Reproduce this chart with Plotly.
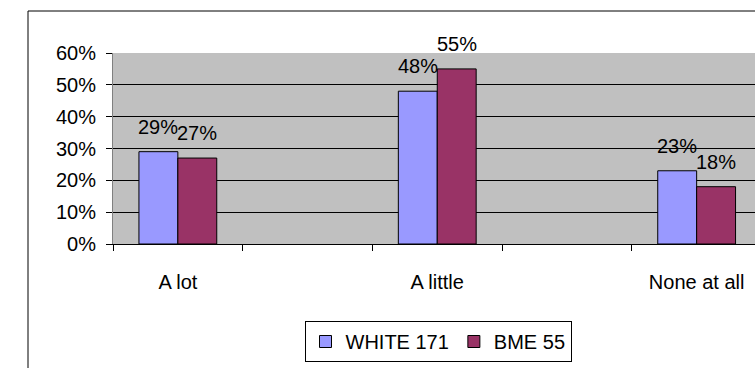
import plotly.graph_objects as go

categories = ["A lot", "A little", "None at all"]
white_171 = [0.29, 0.48, 0.23]
bme_55 = [0.27, 0.55, 0.18]
series_names = ["WHITE 171", "BME 55"]
y_ticks = [0, 0.1, 0.2, 0.3, 0.4, 0.5, 0.6]

FONT = "Liberation Sans, Arial, sans-serif"
STEP = 2  # each category is followed by an empty slot
BARGAP = 0.70
xpos = [STEP * i for i in range(len(categories))]
n_slots = STEP * len(categories)
boundaries = [i - 0.5 for i in range(n_slots + 1)]

fig = go.Figure()
fig.add_trace(go.Bar(x=xpos, y=white_171, name=series_names[0],
                     marker=dict(color="#9999FF", line=dict(color="#000000", width=1))))
fig.add_trace(go.Bar(x=xpos, y=bme_55, name=series_names[1],
                     marker=dict(color="#993366", line=dict(color="#000000", width=1))))
# invisible trace to carry the boundary tick axis
fig.add_trace(go.Scatter(x=[xpos[0]], y=[0], xaxis="x2", mode="markers",
                         marker=dict(opacity=0), showlegend=False, hoverinfo="skip"))

half = STEP * (1 - BARGAP) / 4
for vals, off in ((white_171, -half), (bme_55, half)):
    for xp, v in zip(xpos, vals):
        fig.add_annotation(x=xp + off, y=v, text=f"{round(v*100)}%", showarrow=False,
                           yshift=25, font=dict(size=20, color="black", family=FONT))

W, H = 755, 368
L, T, B = 113, 53, 124
pw = W - L
ph = H - T - B
slot = 129.7
xr = [-0.5, -0.5 + pw / slot]
fig.update_layout(
    width=W, height=H,
    margin=dict(l=L, r=0, t=T, b=B),
    paper_bgcolor="white", plot_bgcolor="#C0C0C0",
    barmode="group", bargap=BARGAP, bargroupgap=0,
    font=dict(family=FONT, size=20, color="black"),
    xaxis=dict(range=xr, tickmode="array", tickvals=xpos, ticktext=categories,
               ticks="outside", ticklen=20, tickcolor="rgba(0,0,0,0)",
               showline=True, linecolor="black", linewidth=1, showgrid=False, zeroline=False,
               tickfont=dict(size=20), fixedrange=True),
    xaxis2=dict(range=xr, overlaying="x", anchor="y", side="bottom",
                tickmode="array", tickvals=boundaries, ticks="outside", ticklen=6,
                tickcolor="black", showticklabels=False, showgrid=False, zeroline=False,
                showline=False),
    yaxis=dict(range=[0, 0.6], tickmode="array", tickvals=y_ticks, tickformat=".0%",
               ticks="outside", ticklen=6, tickcolor="black",
               showline=True, linecolor="#808080", linewidth=1,
               showgrid=True, gridcolor="black", gridwidth=1, zeroline=False,
               tickfont=dict(size=20), ticklabelstandoff=6),
    showlegend=True,
    legend=dict(orientation="h", x=(438 - L) / pw, xanchor="center",
                y=-(321 - (H - B)) / ph, yanchor="top",
                bgcolor="white", bordercolor="black", borderwidth=1,
                font=dict(size=20), itemwidth=30, tracegroupgap=0),
    shapes=[dict(type="rect", xref="paper", yref="paper",
                 x0=(28 - L) / pw, x1=1.5, y0=-2, y1=(H - B - 11) / ph,
                 line=dict(color="black", width=1), layer="below")],
)
fig.write_html("out.html")
